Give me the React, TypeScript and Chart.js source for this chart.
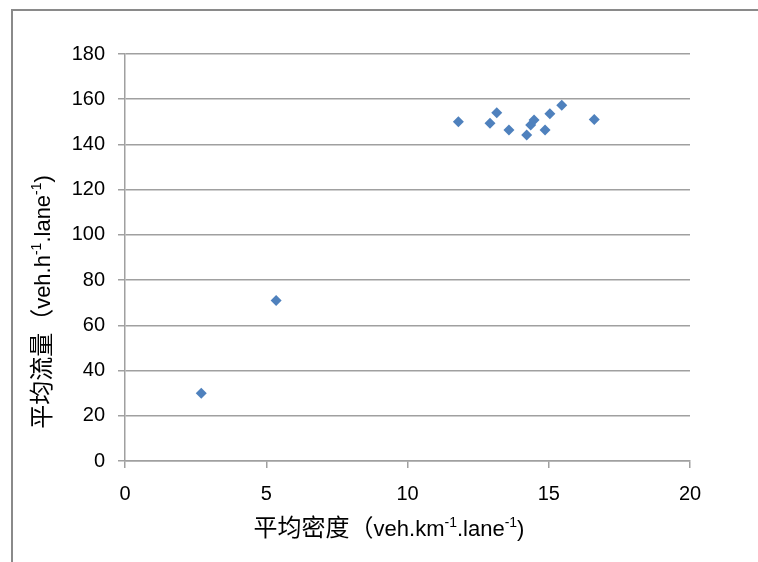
import React, { useEffect, useRef } from "react";
import { Chart, registerables } from "chart.js";

Chart.register(...registerables);

const densityValues = [2.7, 5.35, 11.8, 12.92, 13.16, 13.59, 14.22, 14.36, 14.48, 14.87, 15.04, 15.46, 16.61];
const flowValues = [30, 71, 150, 149.4, 154, 146.4, 144.2, 148.6, 150.8, 146.4, 153.6, 157.3, 151];
const xTicks = [0, 5, 10, 15, 20];
const yTicks = [0, 20, 40, 60, 80, 100, 120, 140, 160, 180];

type Seg = { t: string; kind: "cjk" | "lat" | "sup" };
const xTitleSegs: Seg[] = [
  { t: "平均密度（", kind: "cjk" },
  { t: "veh.km", kind: "lat" },
  { t: "-1", kind: "sup" },
  { t: ".lane", kind: "lat" },
  { t: "-1", kind: "sup" },
  { t: ")", kind: "lat" },
];
const yTitleSegs: Seg[] = [
  { t: "平均流量（", kind: "cjk" },
  { t: "veh.h", kind: "lat" },
  { t: "-1", kind: "sup" },
  { t: ".lane", kind: "lat" },
  { t: "-1", kind: "sup" },
  { t: ")", kind: "lat" },
];

const FONTS: Record<string, string> = {
  cjk: "24px 'Noto Sans CJK SC', sans-serif",
  lat: "22px 'Liberation Sans', Arial, sans-serif",
  sup: "14px 'Liberation Sans', Arial, sans-serif",
};

function drawRich(ctx: CanvasRenderingContext2D, segs: Seg[], cx: number, cy: number, rot: number) {
  ctx.save();
  ctx.translate(cx, cy);
  ctx.rotate(rot);
  ctx.fillStyle = "#000";
  ctx.textBaseline = "alphabetic";
  ctx.textAlign = "left";
  let total = 0;
  const widths = segs.map((s) => {
    ctx.font = FONTS[s.kind];
    const w = ctx.measureText(s.t).width;
    total += w;
    return w;
  });
  let x = -total / 2;
  const base = 8;
  segs.forEach((s, i) => {
    ctx.font = FONTS[s.kind];
    ctx.fillText(s.t, x, s.kind === "sup" ? base - 9 : base);
    x += widths[i];
  });
  ctx.restore();
}

const titlePlugin = {
  id: "richTitles",
  afterDraw(chart: any) {
    const ctx = chart.ctx as CanvasRenderingContext2D;
    drawRich(ctx, xTitleSegs, 389, 528, 0);
    drawRich(ctx, yTitleSegs, 42, 302, -Math.PI / 2);
  },
};

export default function App() {
  const ref = useRef<HTMLCanvasElement | null>(null);
  useEffect(() => {
    document.body.style.margin = "0";
    const ctx = ref.current!;
    const tickFont = { family: "'Liberation Sans', Arial, sans-serif", size: 20 };
    const chart = new Chart(ctx, {
      type: "scatter",
      data: {
        datasets: [
          {
            data: densityValues.map((x, i) => ({ x, y: flowValues[i] })),
            backgroundColor: "#4f81bd",
            borderColor: "#4f81bd",
            pointStyle: "rectRot",
            pointRadius: 5.5,
            pointHoverRadius: 5.5,
            borderWidth: 0,
          },
        ],
      },
      plugins: [titlePlugin],
      options: {
        animation: false,
        responsive: false,
        maintainAspectRatio: false,
        layout: { padding: { top: 54, right: 68, left: 0, bottom: 0 } },
        plugins: { legend: { display: false }, tooltip: { enabled: false } },
        scales: {
          x: {
            type: "linear",
            min: 0,
            max: 20,
            afterBuildTicks: (s: any) => {
              s.ticks = xTicks.map((v) => ({ value: v }));
            },
            ticks: { color: "#000", font: tickFont, padding: 14 },
            grid: { drawOnChartArea: false, drawTicks: true, tickLength: 7, color: "#a0a0a0", lineWidth: 1.5 },
            border: { display: true, color: "#a0a0a0", width: 1.5 },
            afterFit: (s: any) => {
              s.height = 562 - 461;
            },
          },
          y: {
            type: "linear",
            min: 0,
            max: 180,
            afterBuildTicks: (s: any) => {
              s.ticks = yTicks.map((v) => ({ value: v }));
            },
            ticks: { color: "#000", font: tickFont, padding: 13 },
            grid: { drawTicks: true, tickLength: 7, color: "#a0a0a0", lineWidth: 1.5 },
            border: { display: true, color: "#a0a0a0", width: 1.5 },
            afterFit: (s: any) => {
              s.width = 125;
            },
          },
        },
      },
    });
    return () => chart.destroy();
  }, []);
  return (
    <div style={{ position: "fixed", left: 0, top: 0, width: 758, height: 562, background: "#fff" }}>
      <div
        style={{
          position: "absolute",
          left: 11,
          top: 9,
          width: 800,
          height: 600,
          borderLeft: "2px solid #8a8a8a",
          borderTop: "2px solid #8a8a8a",
        }}
      />
      <canvas ref={ref} width={758} height={562} style={{ position: "absolute", left: 0, top: 0 }} />
    </div>
  );
}
